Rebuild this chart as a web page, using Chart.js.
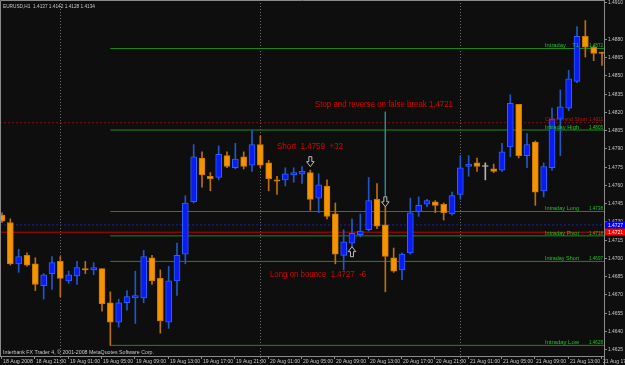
<!DOCTYPE html>
<html>
<head>
<meta charset="utf-8">
<script src="https://cdn.jsdelivr.net/npm/chart.js@4.4.1/dist/chart.umd.min.js"></script>
<style>
  html, body { margin: 0; padding: 0; background: #0e0e0e; overflow: hidden; }
</style>
</head>
<body>
<canvas id="chart" width="625" height="365"></canvas>
<script>
// EURUSD H1, 18 Aug 17:00 .. 21 Aug 17:00 (one bar per hour)
const opens = [1.4735,1.4729,1.4695,1.4702,1.4695,1.4677,1.4687,1.4697,1.4681,1.4685,
  1.4691,1.4690,1.4691,1.4663,1.4647,1.4663,1.4667,1.4667,1.4700,1.4683,
  1.4647,1.4681,1.4703,1.4746,1.4782,1.4767,1.4766,1.4784,1.4774,1.4783,
  1.4776,1.4793,1.4778,1.4764,1.4764,1.4768,1.4769,1.4770,1.4749,1.4759,
  1.4736,1.4702,1.4712,1.4719,1.4723,1.4748,1.4727,1.4700,1.4690,1.4704,
  1.4738,1.4744,1.4746,1.4744,1.4736,1.4752,1.4775,1.4778,1.4775,1.4773,
  1.4772,1.4791,1.4826,1.4784,1.4795,1.4755,1.4774,1.4814,1.4823,1.4845,
  1.4882,1.4873,1.4869];
const highs = [1.4737,1.4732,1.4707,1.4704,1.4700,1.4687,1.4701,1.4701,1.4689,1.4697,
  1.4697,1.4696,1.4691,1.4672,1.4666,1.4673,1.4689,1.4706,1.4702,1.4690,
  1.4693,1.4712,1.4751,1.4793,1.4787,1.4770,1.4792,1.4787,1.4794,1.4787,
  1.4805,1.4800,1.4780,1.4767,1.4774,1.4774,1.4775,1.4772,1.4769,1.4764,
  1.4745,1.4723,1.4732,1.4736,1.4766,1.4761,1.4742,1.4708,1.4704,1.4749,
  1.4750,1.4748,1.4747,1.4745,1.4754,1.4784,1.4784,1.4782,1.4778,1.4777,
  1.4794,1.4834,1.4826,1.4802,1.4796,1.4778,1.4823,1.4838,1.4854,1.4890,
  1.4895,1.4874,1.4869];
const lows = [1.4729,1.4694,1.4688,1.4693,1.4673,1.4666,1.4674,1.4668,1.4679,1.4678,
  1.4687,1.4686,1.4656,1.4628,1.4643,1.4657,1.4646,1.4663,1.4678,1.4638,
  1.4642,1.4669,1.4695,1.4745,1.4758,1.4755,1.4764,1.4774,1.4773,1.4773,
  1.4771,1.4774,1.4755,1.4752,1.4759,1.4762,1.4761,1.4739,1.4737,1.4732,
  1.4695,1.4690,1.4709,1.4717,1.4722,1.4724,1.4672,1.4688,1.4682,1.4703,
  1.4734,1.4742,1.4737,1.4731,1.4735,1.4748,1.4767,1.4771,1.4764,1.4770,
  1.4771,1.4783,1.4782,1.4774,1.4743,1.4750,1.4772,1.4784,1.4821,1.4844,
  1.4865,1.4862,1.4858];
const closes = [1.4730,1.4695,1.4701,1.4694,1.4678,1.4686,1.4696,1.4683,1.4686,1.4692,
  1.4690,1.4692,1.4662,1.4647,1.4663,1.4668,1.4669,1.4701,1.4681,1.4648,
  1.4681,1.4702,1.4745,1.4783,1.4768,1.4765,1.4785,1.4775,1.4781,1.4775,
  1.4793,1.4776,1.4765,1.4763,1.4769,1.4770,1.4771,1.4748,1.4760,1.4734,
  1.4703,1.4713,1.4720,1.4722,1.4747,1.4726,1.4701,1.4689,1.4703,1.4737,
  1.4743,1.4747,1.4743,1.4737,1.4751,1.4774,1.4777,1.4775,1.4775,1.4771,
  1.4787,1.4827,1.4784,1.4793,1.4754,1.4775,1.4814,1.4824,1.4847,1.4882,
  1.4873,1.4868,1.4868];

// time axis labels, one every 4 bars
const xLabels = ['18 Aug 2008','18 Aug 21:00','19 Aug 01:00','19 Aug 05:00','19 Aug 09:00',
  '19 Aug 13:00','19 Aug 17:00','19 Aug 21:00','20 Aug 01:00','20 Aug 05:00','20 Aug 09:00',
  '20 Aug 13:00','20 Aug 17:00','20 Aug 21:00','21 Aug 01:00','21 Aug 05:00','21 Aug 09:00',
  '21 Aug 13:00','21 Aug 17:00'];
const xLabelStep = 4;
const daySeparators = [7, 31, 55];

// price axis
const yTicks = [1.4625,1.4640,1.4655,1.4670,1.4685,1.4700,1.4715,1.4730,1.4745,1.4760,
  1.4775,1.4790,1.4805,1.4820,1.4835,1.4850,1.4865,1.4880,1.4910];
const yMin = 1.461925, yMax = 1.491185;
const xMin = -0.24, xMax = 72.24;

// pivot levels drawn by the indicator
const levelNames = ['Intraday    T1','Close Trend Short','Intraday High','Intraday Long','Intraday Pivot','Intraday Short','Intraday Low'];
const levelValues = [1.4872,1.4811,1.4805,1.4738,1.4718,1.4697,1.4628];
const levelStart = [13, xMin, 13, 13, 13, 13, 13];
const levelColors = ['#1f8a1f','#8c0a0a','#1f8a1f','#1f8a1f','#1f8a1f','#1f8a1f','#1f8a1f'];
const levelTextColors = ['#22c322','#b01818','#22c322','#22c322','#22c322','#22c322','#22c322'];

// bid / ask style lines with axis boxes
const priceLines = [1.4727, 1.4721];
const priceLineColors = ['#2020a8', '#c40000'];
const priceBoxColors = ['#0000ff', '#ff0000'];

// trade notes
const notes = ['Stop and reverse on false break 1.4721', 'Short  1.4759  +32', 'Long on bounce  1.4727  -6'];
const noteBars = [37.56, 33.0, 32.16];
const notePrices = [1.4826, 1.4791, 1.4686];
const noteWidths = [138, 66, 96];

// signal arrows
const arrowBars = [37, 46, 42];
const arrowPrices = [1.4779, 1.4746, 1.4705];
const arrowDirs = ['down', 'down', 'up'];

// false-break spike
const spikeBar = 46;
const spikeTop = 1.4820, spikeBottom = 1.4751;

const BG = '#0e0e0e';
const AXIS = '#8a8a8a';
const TXT = '#c8c8c8';

const bodyFill = i => closes[i] > opens[i] ? '#0a1cf0' : closes[i] < opens[i] ? '#f59300' : '#b4b4b4';
const bodyEdge = i => closes[i] > opens[i] ? '#2b62ff' : closes[i] < opens[i] ? '#c97800' : '#b4b4b4';
const wickColor = i => closes[i] > opens[i] ? '#2158c8' : closes[i] < opens[i] ? '#b87010' : '#b4b4b4';

const idx = opens.map((_, i) => i);
const datasets = [];

levelValues.forEach((v, i) => {
  datasets.push({
    type: 'line',
    data: [{ x: levelStart[i], y: v }, { x: xMax, y: v }],
    borderColor: levelColors[i],
    borderWidth: 1,
    borderDash: i === 1 ? [2, 2] : [],
    pointRadius: 0,
    order: 5
  });
});
priceLines.forEach((v, i) => {
  datasets.push({
    type: 'line',
    data: [{ x: xMin, y: v }, { x: xMax, y: v }],
    borderColor: priceLineColors[i],
    borderWidth: 1,
    borderDash: i === 0 ? [2, 2] : [],
    pointRadius: 0,
    order: 5
  });
});
datasets.push({
  type: 'line',
  data: [{ x: spikeBar, y: spikeTop }, { x: spikeBar, y: spikeBottom }],
  borderColor: '#2a9090',
  borderWidth: 1,
  pointRadius: 0,
  order: 4
});
datasets.push({
  type: 'bar',
  data: idx.map(i => ({ x: i, y: [lows[i], highs[i]] })),
  backgroundColor: ctx => wickColor(ctx.dataIndex),
  barThickness: 1,
  grouped: false,
  order: 3
});
datasets.push({
  type: 'bar',
  data: idx.map(i => ({ x: i, y: [opens[i], closes[i]] })),
  backgroundColor: ctx => bodyFill(ctx.dataIndex),
  borderColor: ctx => bodyEdge(ctx.dataIndex),
  borderWidth: 1,
  borderSkipped: false,
  barThickness: 6,
  minBarLength: 1,
  grouped: false,
  order: 2
});

function drawArrow(c, cx, cy, dir) {
  const s = dir === 'down' ? 1 : -1;
  const pts = [[-1.5, -5], [1.5, -5], [1.5, 0], [3.8, 0], [0, 5], [-3.8, 0], [-1.5, 0]];
  c.beginPath();
  pts.forEach(([px, py], i) => {
    const X = cx + px, Y = cy + py * s;
    if (i) c.lineTo(X, Y); else c.moveTo(X, Y);
  });
  c.closePath();
  c.fillStyle = BG;
  c.fill();
  c.strokeStyle = '#bcbcbc';
  c.lineWidth = 1;
  c.stroke();
}

const frame = {
  id: 'frame',
  beforeDraw(chart) {
    const c = chart.ctx;
    c.save();
    c.fillStyle = BG;
    c.fillRect(0, 0, chart.width, chart.height);
    c.restore();
  },
  beforeDatasetsDraw(chart) {
    const c = chart.ctx, x = chart.scales.x;
    c.save();
    c.strokeStyle = '#6e6e6e';
    c.lineWidth = 1;
    c.setLineDash([1, 2]);
    daySeparators.forEach(b => {
      const px = Math.round(x.getPixelForValue(b)) + 0.5;
      c.beginPath();
      c.moveTo(px, 0);
      c.lineTo(px, chart.height);
      c.stroke();
    });
    c.restore();
  },
  afterDatasetsDraw(chart) {
    const c = chart.ctx, x = chart.scales.x, y = chart.scales.y, area = chart.chartArea;
    c.save();

    // level captions
    c.font = '6px "Liberation Sans"';
    c.textBaseline = 'middle';
    levelValues.forEach((v, i) => {
      const py = y.getPixelForValue(v) - 3;
      c.fillStyle = levelTextColors[i];
      c.textAlign = 'left';
      c.fillText(levelNames[i], area.right - 59, py, i === 1 ? 42 : 34);
      c.textAlign = 'right';
      c.fillText(v.toFixed(4), area.right - 1, py, 14);
    });

    // trade notes
    c.font = '8.5px "Liberation Sans"';
    c.fillStyle = '#e00000';
    c.textAlign = 'left';
    notes.forEach((t, i) => {
      c.fillText(t, x.getPixelForValue(noteBars[i]), y.getPixelForValue(notePrices[i]), noteWidths[i]);
    });

    // arrows
    arrowBars.forEach((b, i) => {
      drawArrow(c, x.getPixelForValue(b), y.getPixelForValue(arrowPrices[i]), arrowDirs[i]);
    });

    // frame lines
    c.strokeStyle = AXIS;
    c.lineWidth = 1;
    c.beginPath();
    c.moveTo(0.5, area.bottom); c.lineTo(0.5, 0.5); c.lineTo(area.right + 0.5, 0.5);
    c.moveTo(area.right + 0.5, 0); c.lineTo(area.right + 0.5, chart.height);
    c.moveTo(0, area.bottom + 0.5); c.lineTo(area.right, area.bottom + 0.5);
    c.stroke();

    // price axis
    c.font = '5.5px "Liberation Sans"';
    c.fillStyle = TXT;
    c.textAlign = 'left';
    yTicks.forEach(v => {
      const py = Math.round(y.getPixelForValue(v)) + 0.5;
      c.beginPath();
      c.moveTo(area.right, py); c.lineTo(area.right + 3, py);
      c.stroke();
      c.fillText(v.toFixed(4), area.right + 4, py, 15);
    });

    // time axis
    xLabels.forEach((t, i) => {
      const px = Math.round(x.getPixelForValue(i * xLabelStep));
      c.beginPath();
      c.moveTo(px - 0.5, area.bottom); c.lineTo(px - 0.5, area.bottom + 3);
      c.stroke();
      c.fillText(t, px + 1, area.bottom + 5, 30);
    });

    // price boxes on the axis
    priceLines.forEach((v, i) => {
      const py = y.getPixelForValue(v);
      c.fillStyle = priceBoxColors[i];
      c.fillRect(area.right + 1, Math.round(py) - 3.5, chart.width - area.right - 1, 7);
      c.fillStyle = '#ffffff';
      c.fillText(v.toFixed(4), area.right + 4, Math.round(py), 15);
    });

    // header and footer
    c.font = '6px "Liberation Sans"';
    c.fillStyle = TXT;
    c.fillText('EURUSD,H1  1.4137 1.4142 1.4128 1.4134', 3, 6, 92);
    c.fillText('Interbank FX Trader 4, \u00a9 2001-2008 MetaQuotes Software Corp.', 3, area.bottom - 4, 151);

    c.restore();
  }
};

new Chart(document.getElementById('chart'), {
  type: 'bar',
  data: { datasets: datasets },
  options: {
    responsive: false,
    animation: false,
    devicePixelRatio: 1,
    layout: { padding: { left: 0, top: 0, right: 21, bottom: 9 } },
    plugins: { legend: { display: false }, tooltip: { enabled: false } },
    scales: {
      x: { type: 'linear', min: xMin, max: xMax, offset: false, display: false },
      y: { type: 'linear', min: yMin, max: yMax, display: false }
    }
  },
  plugins: [frame]
});
</script>
</body>
</html>
